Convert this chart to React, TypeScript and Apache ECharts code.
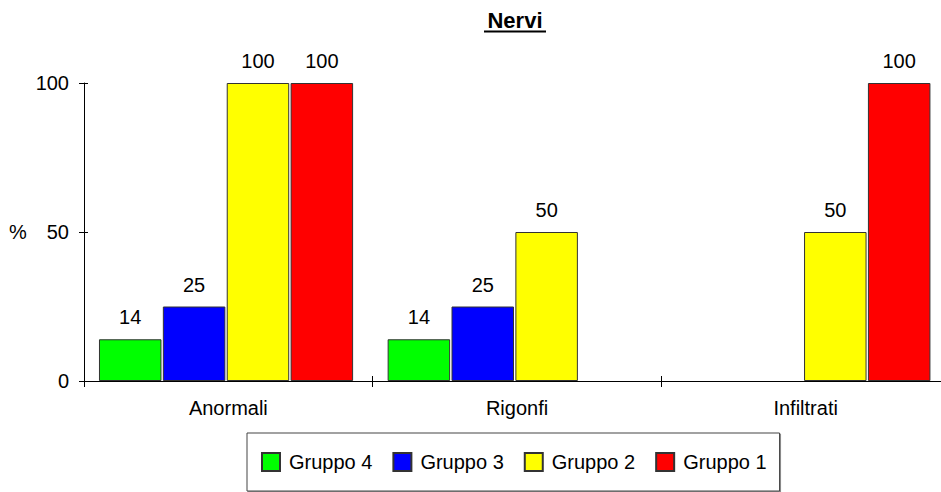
import React, { useEffect, useRef } from "react";
import * as echarts from "echarts";

const categories = ["Anormali", "Rigonfi", "Infiltrati"];
const seriesNames = ["Gruppo 4", "Gruppo 3", "Gruppo 2", "Gruppo 1"];
const gruppo4 = [14, 14, null];
const gruppo3 = [25, 25, null];
const gruppo2 = [100, 50, 50];
const gruppo1 = [100, null, 100];
const colors = ["#00ff00", "#0000ff", "#ffff00", "#ff0000"];
const yTicks = { min: 0, max: 100, interval: 50 };

const FONT = "'Liberation Sans', Arial, sans-serif";

export default function App() {
  const ref = useRef<HTMLDivElement>(null);
  useEffect(() => {
    if (!ref.current) return;
    const chart = echarts.init(ref.current, undefined, { renderer: "svg" });
    const values = [gruppo4, gruppo3, gruppo2, gruppo1];
    const gridBox = { top: 83, height: 298, width: 866, containLabel: false, outerBoundsMode: "none" };
    const option: any = {
      animation: false,
      backgroundColor: "#fff",
      textStyle: { fontFamily: FONT },
      graphic: [
        {
          type: "text",
          x: 515,
          y: 20,
          style: {
            text: "Nervi",
            font: `bold 22px ${FONT}`,
            fill: "#000",
            align: "center",
            verticalAlign: "middle",
          },
        },
        {
          type: "line",
          shape: { x1: 484, y1: 31.5, x2: 546, y2: 31.5 },
          style: { stroke: "#000", lineWidth: 2 },
        },
        {
          type: "text",
          x: 18,
          y: 232,
          style: {
            text: "%",
            font: `20px ${FONT}`,
            fill: "#000",
            align: "center",
            verticalAlign: "middle",
          },
        },
      ],
      legend: {
        data: seriesNames,
        left: 247,
        top: 433,
        orient: "horizontal",
        icon: "rect",
        itemWidth: 18,
        itemHeight: 18,
        itemGap: 20,
        padding: [19, 13, 19, 14],
        borderColor: "#444",
        borderWidth: 1,
        backgroundColor: "#fff",
        shadowColor: "#888",
        shadowOffsetX: 1,
        shadowOffsetY: 1,
        shadowBlur: 0,
        textStyle: { fontSize: 20, color: "#000", fontFamily: FONT, padding: [0, 0, 0, 4] },
      },
      grid: [
        { ...gridBox, left: 81.7 },
        { ...gridBox, left: 84 },
      ],
      xAxis: [
        {
          type: "category",
          gridIndex: 0,
          data: categories,
          show: false,
        },
        {
          type: "category",
          gridIndex: 1,
          data: categories,
          axisLine: { lineStyle: { color: "#000", width: 1 } },
          axisTick: { show: true, length: 6, lineStyle: { color: "#000" } },
          axisLabel: { color: "#000", fontSize: 20, margin: 17, fontFamily: FONT },
          splitLine: { show: false },
        },
        {
          type: "category",
          gridIndex: 1,
          data: categories,
          position: "bottom",
          axisLine: { show: false },
          axisTick: { show: true, inside: true, length: 5, lineStyle: { color: "#000" } },
          axisLabel: { show: false },
          splitLine: { show: false },
        },
      ],
      yAxis: [
        {
          type: "value",
          gridIndex: 0,
          min: yTicks.min,
          max: yTicks.max,
          interval: yTicks.interval,
          show: false,
        },
        {
          type: "value",
          gridIndex: 1,
          min: yTicks.min,
          max: yTicks.max,
          interval: yTicks.interval,
          axisLine: { show: true, lineStyle: { color: "#000", width: 1 } },
          axisTick: { show: true, length: 5, lineStyle: { color: "#000" } },
          axisLabel: { color: "#000", fontSize: 20, margin: 15, fontFamily: FONT },
          splitLine: { show: false },
        },
        {
          type: "value",
          gridIndex: 1,
          position: "left",
          min: yTicks.min,
          max: yTicks.max,
          interval: yTicks.interval,
          axisLine: { show: false },
          axisTick: { show: true, inside: true, length: 4, lineStyle: { color: "#000" } },
          axisLabel: { show: false },
          splitLine: { show: false },
        },
      ],
      series: seriesNames.map((name, i) => ({
        name,
        type: "bar",
        xAxisIndex: 0,
        yAxisIndex: 0,
        data: values[i],
        barWidth: 62.5,
        barGap: "2.2%",
        itemStyle: { color: colors[i], borderColor: "#333", borderWidth: 1 },
        label: {
          show: true,
          position: "top",
          distance: 12,
          color: "#000",
          fontSize: 20,
          fontFamily: FONT,
        },
      })),
    };
    chart.setOption(option);
    return () => chart.dispose();
  }, []);
  return <div ref={ref} style={{ width: 941, height: 492, position: "absolute", left: 0, top: 0 }} />;
}
